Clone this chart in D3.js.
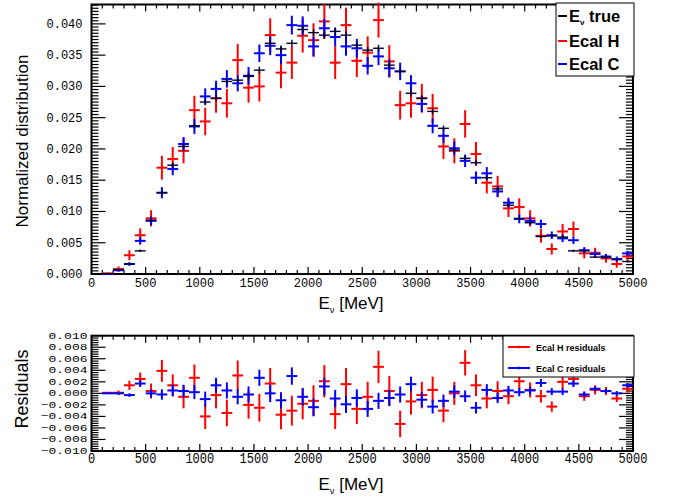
<!DOCTYPE html>
<html><head><meta charset="utf-8">
<script src="https://cdn.jsdelivr.net/npm/d3@7"></script>
<style>
body{margin:0;background:#fff}
.tl text{font-family:"Liberation Mono",monospace;fill:#000}
</style>
</head><body>
<svg id="c" width="673" height="499"></svg>
<script>
const binCenters = [150,250,350,450,550,650,750,850,950,1050,1150,1250,1350,1450,1550,1650,1750,1850,1950,2050,2150,2250,2350,2450,2550,2650,2750,2850,2950,3050,3150,3250,3350,3450,3550,3650,3750,3850,3950,4050,4150,4250,4350,4450,4550,4650,4750,4850,4950];
const trueVals = [0.00005,0.0007,0.0016,0.0037,0.0086,0.0130,0.0174,0.0204,0.0237,0.0275,0.0281,0.0308,0.0310,0.0316,0.0326,0.0369,0.0360,0.0369,0.0391,0.0386,0.0382,0.0388,0.0382,0.0366,0.0358,0.0361,0.0334,0.0324,0.0289,0.0281,0.0260,0.0233,0.0198,0.0185,0.0178,0.0154,0.0136,0.0110,0.0089,0.0082,0.0060,0.0061,0.0059,0.0037,0.0037,0.0027,0.0027,0.0023,0.0020];
const trueErr = [0.00003,0.0001,0.00015,0.0002,0.0003,0.00035,0.0004,0.0004,0.00045,0.0005,0.0005,0.0005,0.0005,0.0005,0.00055,0.00055,0.00055,0.00055,0.0006,0.0006,0.0006,0.0006,0.0006,0.00055,0.00055,0.00055,0.00055,0.00055,0.0005,0.0005,0.0005,0.00045,0.0004,0.0004,0.0004,0.00035,0.00035,0.0003,0.0003,0.0003,0.00025,0.00025,0.00025,0.0002,0.0002,0.00015,0.00015,0.00015,0.00015];
const ecalH = [0.0001,0.0008,0.0030,0.0062,0.0089,0.0170,0.0184,0.0197,0.0262,0.0244,0.0281,0.0273,0.0342,0.0298,0.0300,0.0382,0.0322,0.0338,0.0381,0.0374,0.0404,0.0338,0.0398,0.0341,0.0354,0.0406,0.0340,0.0270,0.0273,0.0281,0.0265,0.0204,0.0197,0.0240,0.0192,0.0146,0.0140,0.0105,0.0107,0.0089,0.0061,0.0040,0.0068,0.0072,0.0033,0.0034,0.0025,0.0016,0.0028];
const ecalHErr = [0.00014,0.0004,0.0008,0.0011,0.0013,0.0019,0.0019,0.0020,0.0023,0.0022,0.0023,0.0023,0.0026,0.0024,0.0024,0.0027,0.0025,0.0026,0.0027,0.0027,0.0028,0.0026,0.0028,0.0026,0.0026,0.0028,0.0026,0.0023,0.0023,0.0023,0.0023,0.0020,0.0020,0.0022,0.0019,0.0017,0.0017,0.0014,0.0014,0.0013,0.0011,0.0009,0.0012,0.0012,0.0008,0.0008,0.0007,0.0006,0.0007];
const ecalC = [0.0000,0.0006,0.0016,0.0053,0.0085,0.0130,0.0168,0.0208,0.0236,0.0284,0.0296,0.0312,0.0305,0.0317,0.0353,0.0365,0.0350,0.0398,0.0397,0.0364,0.0393,0.0379,0.0364,0.0361,0.0333,0.0348,0.0329,0.0324,0.0305,0.0272,0.0237,0.0221,0.0201,0.0181,0.0154,0.0161,0.0132,0.0114,0.0088,0.0085,0.0080,0.0062,0.0057,0.0054,0.0038,0.0032,0.0028,0.0024,0.0033];
const ecalCErr = [0.0000,0.0002,0.0003,0.0006,0.0007,0.0009,0.0010,0.0011,0.0012,0.0013,0.0013,0.0014,0.0013,0.0014,0.0014,0.0015,0.0014,0.0015,0.0015,0.0015,0.0015,0.0015,0.0015,0.0015,0.0014,0.0014,0.0014,0.0014,0.0013,0.0013,0.0012,0.0011,0.0011,0.0010,0.0010,0.0010,0.0009,0.0008,0.0007,0.0007,0.0007,0.0006,0.0006,0.0006,0.0005,0.0004,0.0004,0.0004,0.0004];
const resH = [0.0001,0.0001,0.0014,0.0025,0.0004,0.0039,0.0014,-0.0006,0.0027,-0.0040,-0.0003,-0.0034,0.0031,-0.0020,-0.0025,0.0017,-0.0037,-0.0030,-0.0018,-0.0013,0.0021,-0.0036,0.0016,-0.0027,-0.0006,0.0046,0.0004,-0.0053,-0.0014,-0.0003,0.0006,-0.0030,0.0000,0.0053,0.0014,-0.0009,0.0004,-0.0005,0.0021,0.0006,-0.0005,-0.0023,0.0020,0.0025,-0.0005,0.0006,0.0004,-0.0009,0.0008];
const resC = [0.0000,0.0000,-0.0003,0.0017,0.0000,-0.0002,0.0005,0.0004,0.0002,-0.0010,0.0014,0.0005,-0.0006,-0.0002,0.0027,0.0000,-0.0012,0.0030,-0.0006,-0.0024,0.0012,-0.0009,-0.0019,-0.0008,-0.0027,-0.0013,-0.0008,-0.0002,0.0016,-0.0011,-0.0023,-0.0013,0.0003,-0.0005,-0.0025,0.0006,-0.0008,0.0005,0.0002,0.0005,0.0018,0.0003,0.0003,0.0017,-0.0002,0.0008,0.0004,0.0000,0.0014];
const binWidth = 100;
const xTicksMajor = [0,500,1000,1500,2000,2500,3000,3500,4000,4500,5000];
const yTopTicks = [0,0.005,0.010,0.015,0.020,0.025,0.030,0.035,0.040];
const yBotTicks = [-0.010,-0.008,-0.006,-0.004,-0.002,0,0.002,0.004,0.006,0.008,0.010];
const legendTop = ["Ecal H","Ecal C"];
const legendBot = ["Ecal H residuals","Ecal C residuals"];

const svg = d3.select("#c");
const L = 91.5, R = 633;
const top1 = 4.5, bot1 = 274;
const top2 = 335.7, bot2 = 451;
const x = d3.scaleLinear().domain([0,5000]).range([L,R]);
const yT = d3.scaleLinear().domain([0,0.0431]).range([bot1,top1]);
const yB = d3.scaleLinear().domain([-0.010,0.010]).range([bot2,top2]);
const xMinor = d3.range(0,5001,100);

function frameAxes(y, t, b, yMajor, yMinor, yFmt, yl, xl){
  const g = svg.append("g");
  g.selectAll(null).data(xMinor).enter().append("line")
    .attr("x1",d=>x(d)).attr("x2",d=>x(d)).attr("y1",b).attr("y2",d=> b - (d%500===0?7:4))
    .attr("stroke","#000").attr("stroke-width",1.2);
  g.selectAll(null).data(xMinor).enter().append("line")
    .attr("x1",d=>x(d)).attr("x2",d=>x(d)).attr("y1",t).attr("y2",d=> t + (d%500===0?7:4))
    .attr("stroke","#000").attr("stroke-width",1.2);
  const yMajSet = new Set(yMajor.map(v=>Math.round(v*1e5)));
  g.selectAll(null).data(yMinor).enter().append("line")
    .attr("y1",d=>y(d)).attr("y2",d=>y(d)).attr("x1",L).attr("x2",d=> L + (yMajSet.has(Math.round(d*1e5))?14:7))
    .attr("stroke","#000").attr("stroke-width",1.2);
  g.selectAll(null).data(yMinor).enter().append("line")
    .attr("y1",d=>y(d)).attr("y2",d=>y(d)).attr("x1",R).attr("x2",d=> R - (yMajSet.has(Math.round(d*1e5))?14:7))
    .attr("stroke","#000").attr("stroke-width",1.2);
  g.append("rect").attr("x",L).attr("y",t).attr("width",R-L).attr("height",b-t)
    .attr("fill","none").attr("stroke","#000").attr("stroke-width",2);
  const lab = svg.append("g").attr("class","tl");
  lab.selectAll(null).data(yMajor).enter().append("text")
    .attr("transform",d=>`translate(${L-yl.dx},${y(d)+yl.dy}) scale(1,${yl.sy})`)
    .attr("font-size",yl.size).attr("text-anchor","end").text(yFmt);
  lab.selectAll(null).data(xTicksMajor).enter().append("text")
    .attr("transform",d=>`translate(${x(d)},${b+xl.dy}) scale(1,${xl.sy})`)
    .attr("font-size",xl.size).attr("text-anchor","middle").text(d=>d);
}
frameAxes(yT, top1, bot1, yTopTicks, d3.range(0,0.04301,0.0005), d=>d.toFixed(3),
  {dx:9, dy:4, sy:1, size:12}, {dy:13, sy:1, size:12});
frameAxes(yB, top2, bot2, yBotTicks, d3.range(-0.010,0.01001,0.0004), d=>(d<-1e-9?"\u2212":"")+Math.abs(d).toFixed(3),
  {dx:4, dy:3, sy:0.72, size:13}, {dy:11.5, sy:1.25, size:12});

function drawSeries(y, vals, errs, color, w){
  const g = svg.append("g").attr("stroke",color).attr("stroke-width",w);
  g.selectAll(null).data(binCenters).enter().append("line")
    .attr("x1",(d)=>x(d-binWidth/2)).attr("x2",d=>x(d+binWidth/2))
    .attr("y1",(d,i)=>y(vals[i])).attr("y2",(d,i)=>y(vals[i]));
  g.selectAll(null).data(binCenters).enter().append("line")
    .attr("x1",d=>x(d)).attr("x2",d=>x(d))
    .attr("y1",(d,i)=>y(vals[i]-errs[i])).attr("y2",(d,i)=>y(vals[i]+errs[i]));
}
drawSeries(yT, ecalH, ecalHErr, "#ff0000", 2);
drawSeries(yT, ecalC, ecalCErr, "#0000ff", 2);
drawSeries(yT, trueVals, trueErr, "#000033", 1.4);
drawSeries(yB, resH, ecalHErr, "#ff0000", 2);
drawSeries(yB, resC, ecalCErr, "#0000ff", 2);

function evTitle(cx, cy, size){
  const t = svg.append("text").attr("x",cx).attr("y",cy).attr("text-anchor","middle")
    .attr("font-family","Liberation Sans, Arial, sans-serif").attr("font-size",size);
  t.append("tspan").text("E");
  t.append("tspan").attr("font-size",size*0.55).attr("dy",4).text("\u03bd");
  t.append("tspan").attr("dy",-4).text(" [MeV]");
}
evTitle(351, 309, 17);
evTitle(351, 490, 17);
svg.append("text").attr("transform","translate(28,141) rotate(-90)").attr("text-anchor","middle")
  .attr("font-family","Liberation Sans, Arial, sans-serif").attr("font-size",17).text("Normalized distribution");
svg.append("text").attr("transform","translate(28,389) rotate(-90)").attr("text-anchor","middle")
  .attr("font-family","Liberation Sans, Arial, sans-serif").attr("font-size",18).text("Residuals");

const lg = svg.append("g");
lg.append("rect").attr("x",556).attr("y",3).attr("width",78).attr("height",73).attr("fill","#fff").attr("stroke","#000").attr("stroke-width",1);
const lgColors = ["#000","#ff0000","#0000ff"];
const lgY = [16,41,64];
lgY.forEach((yy,i)=>{
  lg.append("line").attr("x1",558).attr("x2",567).attr("y1",yy).attr("y2",yy).attr("stroke",lgColors[i]).attr("stroke-width",2);
  const t = lg.append("text").attr("x",569).attr("y",yy+6).attr("font-family","Liberation Sans, Arial, sans-serif")
    .attr("font-weight","bold").attr("font-size",16.5);
  if(i===0){
    t.append("tspan").text("E");
    t.append("tspan").attr("font-size",8).attr("dy",3).text("\u03bd");
    t.append("tspan").attr("dy",-3).text(" true");
  } else t.text(legendTop[i-1]);
});
const lb = svg.append("g");
lb.append("rect").attr("x",503).attr("y",336).attr("width",131).attr("height",41).attr("fill","#fff").attr("stroke","#000").attr("stroke-width",1);
[347,368].forEach((yy,i)=>{
  lb.append("line").attr("x1",508).attr("x2",530).attr("y1",yy).attr("y2",yy).attr("stroke",lgColors[i+1]).attr("stroke-width",2);
  lb.append("line").attr("x1",519).attr("x2",519).attr("y1",yy-1.5).attr("y2",yy+1.5).attr("stroke",lgColors[i+1]).attr("stroke-width",1);
  lb.append("text").attr("x",536).attr("y",yy+3.5).attr("font-family","Liberation Sans, Arial, sans-serif")
    .attr("font-weight","bold").attr("font-size",9).text(legendBot[i]);
});
</script>
</body></html>
